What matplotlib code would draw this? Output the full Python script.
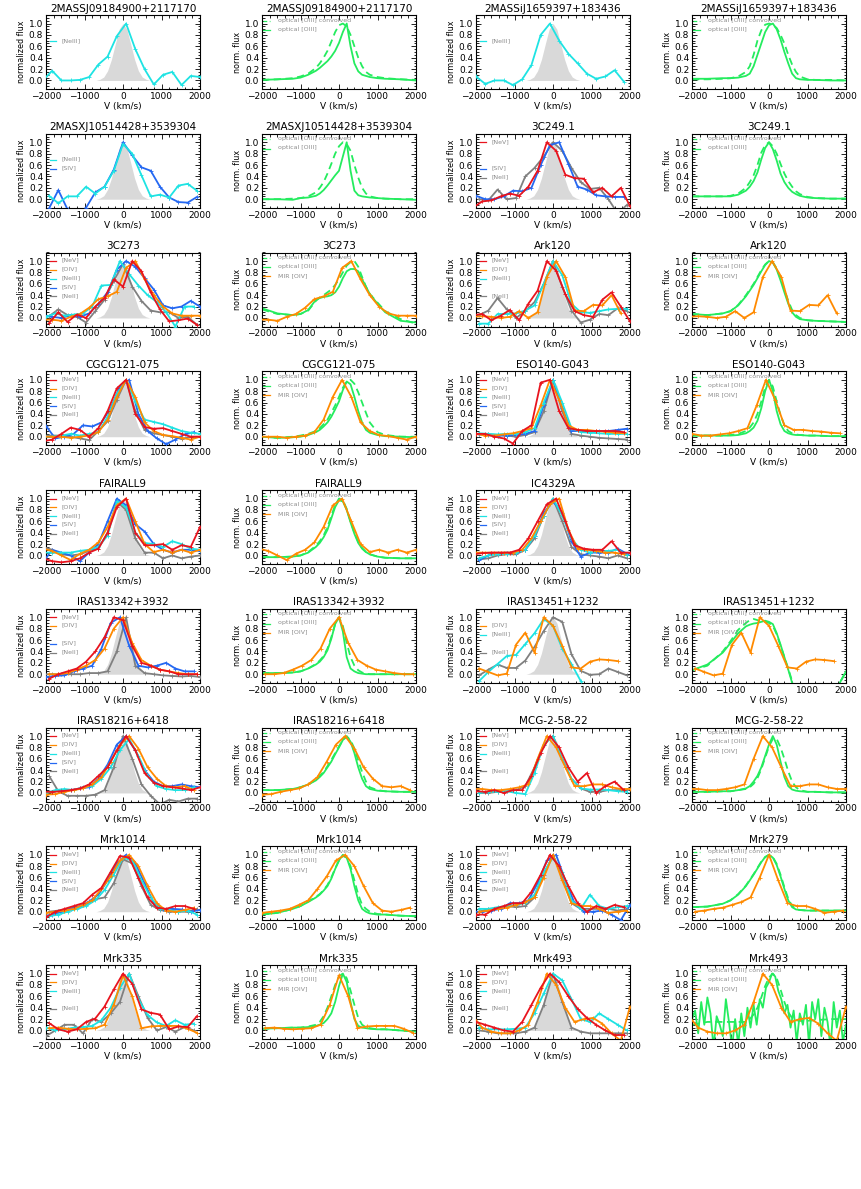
import numpy as np
import matplotlib.pyplot as plt
from matplotlib.ticker import MultipleLocator, FormatStrFormatter

nan = np.nan

# velocity grids (km/s)
GA = [-1920, -1680, -1440, -1200, -960, -720, -480, -240, 0, 240, 480, 720, 960, 1200, 1440, 1680, 1920]
GB = [-2080, -1840, -1600, -1360, -1120, -880, -640, -400, -160, 80, 320, 560, 800, 1040, 1280, 1520, 1760, 2000]
GC = [-2000, -1760, -1520, -1280, -1040, -800, -560, -320, -80, 160, 400, 640, 880, 1120, 1360, 1600, 1840]
GO = [-2000, -1600, -1200, -1000, -800, -600, -500, -400, -300, -200, -100, 0, 100, 200, 300, 400, 500,
      600, 700, 800, 1000, 1200, 1600, 2000]
GN = [-2000, -1920, -1840, -1760, -1680, -1600, -1520, -1440, -1360, -1280, -1200, -1120, -1040, -960,
      -880, -800, -720, -640, -560, -480, -400, -320, -240, -160, -80, 0, 80, 160, 240, 320, 400, 480,
      560, 640, 720, 800, 880, 960, 1040, 1120, 1200, 1280, 1360, 1440, 1520, 1600, 1680, 1760, 1840,
      1920, 2000]

# instrumental profile (grey shading)
inst_v = [-700, -600, -500, -400, -300, -200, -100, 0, 100, 200, 300, 400, 500, 600, 700]
inst_f = [0.0, 0.02, 0.06, 0.17, 0.37, 0.64, 0.9, 1.0, 0.9, 0.64, 0.37, 0.17, 0.06, 0.02, 0.0]

# 2MASSJ09184900+2117170
j0918_ne3 = [0.0, 0.17, 0.0, 0.0, 0.01, 0.06, 0.28, 0.42, 0.78, 1.0, 0.55, 0.2, -0.07, 0.1, 0.15, -0.08, 0.08, 0.06]
j0918_opt = [0.01, 0.02, 0.03, 0.05, 0.1, 0.17, 0.22, 0.28, 0.34, 0.42, 0.52, 0.66, 0.85, 1.0, 0.6, 0.3, 0.16, 0.1, 0.08, 0.06, 0.04, 0.03, 0.02, 0.0]
j0918_conv = [0.01, 0.02, 0.04, 0.07, 0.12, 0.22, 0.3, 0.4, 0.52, 0.68, 0.85, 0.97, 1.0, 0.95, 0.8, 0.6, 0.4, 0.25, 0.15, 0.1, 0.06, 0.04, 0.02, 0.01]

# 2MASSiJ1659397+183436
j1659_ne3 = [0.07, -0.06, 0.0, 0.0, -0.08, 0.02, 0.27, 0.8, 1.0, 0.7, 0.47, 0.3, 0.12, 0.03, 0.07, 0.18, -0.02]
j1659_opt = [0.03, 0.03, 0.04, 0.04, 0.05, 0.08, 0.12, 0.25, 0.45, 0.65, 0.85, 0.97, 1.0, 0.9, 0.72, 0.5, 0.3, 0.12, 0.04, 0.02, 0.01, 0.01, 0.0, 0.0]
j1659_conv = [0.02, 0.02, 0.03, 0.04, 0.07, 0.15, 0.25, 0.45, 0.7, 0.88, 0.98, 1.0, 0.98, 0.92, 0.8, 0.65, 0.45, 0.28, 0.15, 0.07, 0.02, 0.01, 0.01, 0.0]

# 2MASXJ10514428+3539304
j1051_ne3 = [0.06, -0.07, 0.05, 0.05, 0.22, 0.1, 0.22, 0.5, 0.97, 0.8, 0.42, 0.05, 0.08, 0.03, 0.24, 0.27, 0.15]
j1051_s4 = [-0.16, 0.16, -0.18, -0.25, -0.15, 0.12, 0.22, 0.52, 1.0, 0.77, 0.56, 0.5, 0.22, 0.03, -0.05, -0.06, 0.04]
j1051_opt = [0.0, 0.0, -0.01, 0.02, 0.03, 0.06, 0.1, 0.16, 0.24, 0.33, 0.42, 0.5, 0.75, 1.0, 0.5, 0.15, 0.07, 0.05, 0.04, 0.03, 0.02, 0.01, 0.0, -0.01]
j1051_conv = [0.0, 0.0, 0.01, 0.02, 0.05, 0.12, 0.2, 0.3, 0.45, 0.62, 0.8, 0.93, 1.0, 0.97, 0.85, 0.6, 0.38, 0.2, 0.1, 0.05, 0.02, 0.01, 0.0, 0.0]

# 3C249.1
c249_ne5 = [-0.15, -0.04, -0.02, 0.05, 0.1, 0.06, 0.22, 0.5, 1.0, 0.85, 0.43, 0.37, 0.36, 0.12, 0.2, 0.05, 0.2, -0.12]
c249_s4 = [0.06, 0.0, 0.0, 0.05, 0.15, 0.14, 0.2, 0.6, 0.95, 1.0, 0.62, 0.22, 0.17, 0.07, 0.05, 0.04, 0.04]
c249_ne2 = [0.0, -0.02, 0.17, 0.0, 0.02, 0.4, 0.55, 0.75, 1.0, 0.85, 0.55, 0.3, 0.18, 0.2, 0.0, -0.25, -0.1]
c249_opt = [0.05, 0.05, 0.05, 0.05, 0.08, 0.15, 0.22, 0.32, 0.47, 0.7, 0.9, 1.0, 0.88, 0.68, 0.45, 0.3, 0.2, 0.13, 0.09, 0.06, 0.03, 0.02, 0.01, 0.01]
c249_conv = [0.05, 0.05, 0.05, 0.06, 0.1, 0.2, 0.3, 0.42, 0.6, 0.82, 0.95, 1.0, 0.93, 0.8, 0.62, 0.45, 0.32, 0.22, 0.14, 0.09, 0.04, 0.02, 0.01, 0.01]

# 3C273
c273_ne5 = [-0.09, 0.1, -0.07, 0.06, 0.0, 0.2, 0.35, 0.68, 0.55, 1.0, 0.82, 0.45, 0.15, -0.06, -0.04, -0.01, -0.12]
c273_o4 = [-0.03, -0.03, -0.05, 0.02, 0.07, 0.18, 0.33, 0.38, 0.46, 0.88, 1.0, 0.68, 0.4, 0.2, 0.08, 0.04, 0.04, 0.04]
c273_ne3 = [0.02, 0.08, 0.04, 0.06, 0.08, 0.2, 0.57, 0.58, 1.0, 0.77, 0.57, 0.4, 0.28, 0.1, -0.15, 0.2, 0.2]
c273_s4 = [0.05, 0.02, 0.0, 0.05, 0.02, 0.08, 0.25, 0.45, 0.85, 1.0, 0.9, 0.7, 0.5, 0.22, 0.17, 0.2, 0.3, 0.2]
c273_ne2 = [0.03, 0.15, 0.05, 0.02, -0.08, 0.12, 0.32, 0.65, 0.95, 0.55, 0.3, 0.13, 0.1, 0.1, 0.0, 0.02, -0.12]
c273_opt = [0.17, 0.08, 0.05, 0.07, 0.14, 0.32, 0.35, 0.37, 0.38, 0.4, 0.45, 0.55, 0.7, 0.82, 0.86, 0.86, 0.82, 0.68, 0.55, 0.42, 0.25, 0.1, -0.05, -0.08]
c273_conv = [0.15, 0.07, 0.05, 0.07, 0.13, 0.3, 0.36, 0.4, 0.45, 0.5, 0.58, 0.68, 0.8, 0.92, 0.98, 1.0, 0.9, 0.72, 0.55, 0.42, 0.27, 0.12, -0.02, -0.1]

# Ark120
ark_ne5 = [0.05, 0.07, -0.04, 0.04, 0.14, -0.04, 0.25, 0.48, 1.0, 0.83, 0.42, 0.12, 0.05, 0.02, 0.32, 0.45, 0.2, -0.06]
ark_o4 = [0.02, 0.03, 0.02, 0.0, 0.02, 0.12, 0.0, 0.1, 0.72, 1.0, 0.72, 0.13, 0.12, 0.23, 0.22, 0.4, 0.08, nan]
ark_ne3 = [-0.1, -0.1, 0.07, 0.07, 0.08, 0.13, 0.22, 0.6, 1.0, 0.75, 0.25, 0.1, 0.09, 0.12, 0.15, 0.16, 0.16]
ark_ne2 = [0.05, 0.13, 0.35, 0.15, 0.0, 0.12, 0.28, 0.6, 1.0, 0.55, 0.13, -0.08, -0.03, 0.07, 0.05, 0.17, 0.12]
ark_opt = [0.07, 0.05, 0.08, 0.12, 0.22, 0.38, 0.48, 0.58, 0.7, 0.82, 0.93, 1.0, 0.97, 0.85, 0.66, 0.45, 0.25, 0.1, 0.02, -0.02, -0.04, -0.05, -0.06, -0.07]
ark_conv = [0.07, 0.05, 0.08, 0.12, 0.23, 0.4, 0.5, 0.6, 0.72, 0.84, 0.94, 1.0, 0.98, 0.87, 0.7, 0.5, 0.3, 0.14, 0.05, 0.0, -0.04, -0.05, -0.06, -0.07]

# CGCG121-075
cgcg_ne5 = [-0.08, -0.05, 0.05, 0.16, 0.12, 0.0, 0.15, 0.45, 0.85, 1.0, 0.4, 0.17, 0.14, 0.15, 0.1, 0.05, 0.0, 0.0]
cgcg_o4 = [0.0, 0.0, 0.0, -0.02, 0.0, 0.02, 0.08, 0.3, 0.7, 1.0, 0.7, 0.25, 0.1, 0.03, 0.01, -0.02, -0.05, 0.0]
cgcg_ne3 = [0.0, 0.0, 0.02, 0.05, 0.02, 0.05, 0.08, 0.35, 0.75, 1.0, 0.62, 0.3, 0.26, 0.22, 0.16, 0.1, 0.07, 0.05]
cgcg_s4 = [0.19, -0.03, 0.0, 0.05, 0.2, 0.18, 0.25, 0.5, 0.88, 1.0, 0.4, 0.1, -0.03, -0.13, -0.05, 0.04, 0.08]
cgcg_ne2 = [0.02, 0.02, 0.02, 0.0, -0.03, -0.06, 0.1, 0.27, 0.65, 1.0, 0.45, 0.12, 0.06, 0.03, 0.0, -0.04, 0.0, 0.0]
cgcg_opt = [0.0, -0.02, -0.01, 0.0, 0.03, 0.08, 0.12, 0.18, 0.25, 0.35, 0.48, 0.62, 0.82, 0.97, 0.92, 0.7, 0.45, 0.25, 0.12, 0.07, 0.03, 0.01, 0.0, -0.01]
cgcg_conv = [0.0, -0.02, 0.0, 0.02, 0.05, 0.1, 0.15, 0.22, 0.3, 0.42, 0.55, 0.7, 0.86, 0.97, 1.0, 0.93, 0.78, 0.6, 0.42, 0.25, 0.08, 0.03, 0.0, 0.0]

# ESO140-G043
eso_ne5 = [0.05, 0.05, 0.0, -0.03, -0.12, 0.1, 0.2, 0.95, 1.0, 0.45, 0.15, 0.12, 0.1, 0.1, 0.1, 0.1, 0.08]
eso_o4 = [0.05, 0.02, 0.02, 0.04, 0.06, 0.1, 0.15, 0.55, 1.0, 0.65, 0.2, 0.12, 0.12, 0.1, 0.09, 0.07, 0.06]
eso_ne3 = [0.06, 0.05, 0.04, 0.05, 0.05, 0.08, 0.15, 0.6, 1.0, 0.6, 0.15, 0.08, 0.07, 0.06, 0.05, 0.05, 0.05]
eso_s4 = [0.04, 0.03, 0.02, 0.02, 0.03, 0.05, 0.1, 0.55, 1.0, 0.5, 0.1, 0.1, 0.08, 0.1, 0.1, 0.12, 0.14]
eso_ne2 = [0.05, 0.04, 0.03, 0.02, 0.0, 0.03, 0.08, 0.45, 1.0, 0.45, 0.05, 0.02, 0.0, -0.02, -0.03, -0.04, -0.05]
eso_opt = [0.02, 0.02, 0.02, 0.02, 0.03, 0.06, 0.1, 0.16, 0.28, 0.5, 0.8, 1.0, 0.8, 0.45, 0.22, 0.1, 0.06, 0.04, 0.03, 0.03, 0.02, 0.02, 0.01, 0.01]
eso_conv = [0.02, 0.02, 0.02, 0.03, 0.05, 0.1, 0.16, 0.25, 0.4, 0.62, 0.87, 1.0, 0.88, 0.62, 0.38, 0.2, 0.1, 0.06, 0.04, 0.03, 0.02, 0.02, 0.01, 0.01]

# FAIRALL9
f9_ne5 = [-0.05, -0.1, -0.12, -0.1, -0.05, 0.05, 0.12, 0.4, 0.85, 1.0, 0.4, 0.18, 0.18, 0.2, 0.1, 0.18, 0.15, 0.5]
f9_o4 = [0.12, 0.08, 0.0, -0.08, 0.03, 0.1, 0.23, 0.5, 0.88, 1.0, 0.6, 0.2, 0.06, 0.1, 0.05, 0.1, 0.05, 0.1]
f9_ne3 = [0.05, 0.05, 0.05, 0.05, 0.08, 0.1, 0.15, 0.35, 0.95, 0.85, 0.4, 0.22, 0.2, 0.15, 0.25, 0.2, 0.12, 0.1]
f9_s4 = [-0.12, 0.1, 0.05, 0.0, -0.1, 0.05, 0.2, 0.6, 1.0, 0.88, 0.55, 0.42, 0.2, 0.1, 0.05, 0.1, 0.1, 0.08]
f9_ne2 = [0.15, 0.1, 0.02, 0.0, 0.02, 0.08, 0.12, 0.4, 0.95, 0.8, 0.3, 0.05, 0.05, -0.05, 0.0, -0.05, -0.02, 0.0]
f9_opt = [-0.03, -0.03, -0.02, 0.0, 0.05, 0.15, 0.22, 0.32, 0.45, 0.65, 0.85, 0.97, 0.95, 0.8, 0.58, 0.38, 0.22, 0.12, 0.06, 0.02, -0.02, -0.04, -0.05, -0.05]
f9_conv = [-0.03, -0.03, -0.02, 0.0, 0.06, 0.17, 0.25, 0.35, 0.5, 0.7, 0.88, 1.0, 0.97, 0.82, 0.6, 0.4, 0.24, 0.13, 0.06, 0.02, -0.02, -0.04, -0.05, -0.05]

# IC4329A
ic_ne5 = [0.02, 0.04, 0.05, 0.05, 0.05, 0.1, 0.3, 0.6, 0.9, 1.0, 0.6, 0.18, 0.12, 0.1, 0.1, 0.25, 0.05, 0.05]
ic_o4 = [0.05, 0.05, 0.05, 0.05, 0.05, 0.1, 0.3, 0.6, 0.9, 1.0, 0.45, 0.12, 0.1, 0.08, 0.05, 0.05, 0.02]
ic_ne3 = [-0.05, 0.0, 0.02, 0.03, 0.05, 0.1, 0.35, 0.7, 1.0, 0.7, 0.3, 0.1, 0.05, 0.08, 0.08, 0.1, 0.0]
ic_s4 = [-0.08, 0.0, 0.04, 0.05, 0.04, 0.1, 0.35, 0.75, 0.95, 0.75, 0.25, -0.02, 0.05, 0.05, 0.05, 0.12, 0.03]
ic_ne2 = [-0.07, -0.05, 0.0, 0.02, 0.02, 0.1, 0.3, 0.7, 1.0, 0.6, 0.15, 0.02, 0.0, -0.02, -0.05, 0.0, -0.05]

# IRAS13342+3932
i1334_ne5 = [-0.08, 0.0, 0.05, 0.1, 0.22, 0.4, 0.65, 1.0, 0.95, 0.5, 0.2, 0.15, 0.08, 0.05, 0.0, 0.0, 0.0]
i1334_o4 = [0.0, 0.0, 0.02, 0.08, 0.15, 0.25, 0.45, 0.8, 1.0, 0.55, 0.25, 0.15, 0.08, 0.05, 0.02, 0.0, 0.0]
i1334_s4 = [-0.05, -0.03, -0.02, 0.05, 0.1, 0.15, 0.45, 0.9, 1.0, 0.5, 0.15, 0.12, 0.15, 0.2, 0.1, 0.05, 0.05]
i1334_ne2 = [0.0, 0.0, 0.0, 0.0, 0.0, 0.02, 0.02, 0.05, 0.4, 1.0, 0.15, 0.02, 0.0, -0.02, -0.03, -0.04, -0.03, -0.05]
i1334_opt = [0.02, 0.02, 0.03, 0.05, 0.1, 0.17, 0.22, 0.3, 0.42, 0.62, 0.88, 1.0, 0.75, 0.3, 0.1, 0.05, 0.02, 0.01, 0.0, 0.0, 0.0, 0.0, 0.0, 0.0]
i1334_conv = [0.02, 0.02, 0.03, 0.05, 0.1, 0.18, 0.24, 0.32, 0.45, 0.65, 0.88, 1.0, 0.85, 0.55, 0.3, 0.15, 0.07, 0.03, 0.01, 0.0, 0.0, 0.0, 0.0, 0.0]

# IRAS13451+1232
i1345_o4 = [0.1, 0.04, -0.02, 0.01, 0.52, 0.73, 0.38, 1.0, 0.85, 0.5, 0.12, 0.1, 0.22, 0.26, 0.25, 0.23, nan]
i1345_ne3 = [-0.12, 0.04, 0.18, 0.32, 0.34, 0.53, 0.72, 0.97, 0.85, 0.45, 0.18, -0.12, -0.4, nan, nan, nan, nan]
i1345_ne2 = [-0.02, 0.08, 0.17, 0.11, 0.11, 0.24, 0.48, 0.76, 1.0, 0.92, 0.35, 0.06, -0.01, 0.0, 0.1, 0.04, -0.02]
i1345_opt = [0.07, 0.17, 0.38, 0.55, 0.72, 0.84, 0.87, 0.89, 0.9, 0.92, 0.94, 0.92, 0.88, 0.72, 0.52, 0.3, 0.08, -0.15, -0.3, -0.4, -0.5, -0.5, -0.45, 0.05]
i1345_conv = [0.07, 0.15, 0.4, 0.58, 0.78, 0.9, 0.95, 0.97, 0.95, 0.92, 0.92, 0.9, 0.85, 0.7, 0.5, 0.3, 0.1, -0.12, -0.3, -0.4, -0.5, -0.5, -0.45, 0.05]

# IRAS18216+6418
i1821_ne5 = [0.02, 0.02, 0.03, 0.05, 0.08, 0.15, 0.3, 0.45, 0.75, 1.0, 0.75, 0.35, 0.18, 0.12, 0.1, 0.08, 0.05, 0.1]
i1821_o4 = [-0.03, -0.02, 0.02, 0.05, 0.08, 0.15, 0.28, 0.55, 0.85, 1.0, 0.78, 0.45, 0.25, 0.12, 0.1, 0.12, 0.05]
i1821_ne3 = [0.0, 0.05, 0.07, 0.05, 0.1, 0.12, 0.25, 0.45, 0.75, 0.95, 0.65, 0.3, 0.12, 0.07, 0.05, 0.05, 0.1]
i1821_s4 = [0.0, 0.02, 0.05, 0.05, 0.08, 0.1, 0.25, 0.5, 0.85, 1.0, 0.75, 0.4, 0.2, 0.12, 0.12, 0.15, 0.12, 0.1]
i1821_ne2 = [0.3, 0.03, -0.05, -0.05, -0.05, -0.03, 0.05, 0.45, 1.0, 0.6, 0.15, -0.05, -0.2, -0.12, -0.15, -0.1, -0.1]
i1821_opt = [0.05, 0.05, 0.07, 0.1, 0.15, 0.22, 0.28, 0.35, 0.45, 0.55, 0.68, 0.8, 0.93, 1.0, 0.9, 0.7, 0.45, 0.25, 0.12, 0.07, 0.04, 0.03, 0.02, 0.02]
i1821_conv = [0.05, 0.05, 0.07, 0.1, 0.15, 0.23, 0.3, 0.37, 0.47, 0.58, 0.7, 0.82, 0.93, 0.99, 0.93, 0.78, 0.57, 0.37, 0.2, 0.1, 0.05, 0.03, 0.02, 0.02]

# MCG-2-58-22
mcg_ne5 = [0.03, 0.02, 0.05, 0.0, 0.05, 0.05, 0.3, 0.7, 1.0, 0.8, 0.45, 0.2, 0.35, 0.0, 0.12, 0.2, 0.05]
mcg_o4 = [0.07, 0.07, 0.05, 0.05, 0.07, 0.1, 0.15, 0.6, 1.0, 0.8, 0.45, 0.12, 0.12, 0.15, 0.15, 0.1, 0.07, 0.07]
mcg_ne3 = [0.0, 0.02, 0.02, 0.03, 0.0, -0.02, 0.35, 0.85, 1.0, 0.6, 0.25, 0.08, 0.06, 0.06, 0.05, 0.03, 0.02]
mcg_ne2 = [0.0, 0.0, 0.02, 0.03, 0.05, 0.12, 0.45, 0.85, 1.0, 0.6, 0.25, 0.08, 0.02, 0.02, 0.05, 0.05, 0.05]
mcg_opt = [0.02, 0.02, 0.03, 0.03, 0.05, 0.08, 0.12, 0.2, 0.3, 0.45, 0.65, 0.85, 1.0, 0.85, 0.55, 0.28, 0.12, 0.06, 0.04, 0.03, 0.02, 0.02, 0.01, 0.01]
mcg_conv = [0.02, 0.02, 0.03, 0.03, 0.05, 0.07, 0.1, 0.16, 0.26, 0.42, 0.62, 0.82, 0.95, 0.95, 0.8, 0.6, 0.38, 0.2, 0.1, 0.05, 0.02, 0.02, 0.01, 0.01]

# Mrk1014
m1014_ne5 = [-0.1, 0.0, 0.05, 0.1, 0.15, 0.3, 0.42, 0.7, 0.98, 0.95, 0.6, 0.25, 0.07, 0.05, 0.1, 0.1, 0.05]
m1014_o4 = [-0.02, 0.0, 0.02, 0.05, 0.12, 0.2, 0.4, 0.62, 0.9, 1.0, 0.8, 0.45, 0.15, 0.02, 0.0, 0.03, 0.07]
m1014_ne3 = [-0.08, -0.05, 0.0, 0.05, 0.1, 0.2, 0.38, 0.65, 0.95, 0.9, 0.55, 0.25, 0.05, 0.03, 0.0, 0.02, -0.05]
m1014_s4 = [-0.08, -0.05, 0.0, 0.05, 0.1, 0.18, 0.3, 0.55, 0.85, 1.0, 0.85, 0.5, 0.15, 0.05, 0.05, 0.04, 0.0, 0.03]
m1014_ne2 = [0.0, 0.02, 0.05, 0.08, 0.12, 0.22, 0.25, 0.5, 0.92, 0.85, 0.45, 0.12, 0.03, 0.0, 0.0, 0.0, 0.05]
m1014_opt = [-0.05, -0.02, 0.05, 0.1, 0.17, 0.25, 0.3, 0.37, 0.45, 0.58, 0.75, 0.9, 1.0, 0.95, 0.75, 0.45, 0.2, 0.05, 0.0, -0.03, -0.05, -0.05, -0.07, -0.08]
m1014_conv = [-0.05, -0.02, 0.05, 0.1, 0.18, 0.26, 0.31, 0.38, 0.47, 0.6, 0.76, 0.9, 0.98, 0.95, 0.8, 0.55, 0.3, 0.12, 0.05, 0.0, -0.04, -0.05, -0.07, -0.08]

# Mrk279
m279_ne5 = [-0.05, -0.05, 0.05, 0.1, 0.15, 0.15, 0.35, 0.65, 1.0, 0.8, 0.45, 0.15, 0.0, 0.1, 0.05, 0.12, 0.08]
m279_o4 = [0.0, 0.02, 0.05, 0.07, 0.12, 0.17, 0.25, 0.6, 1.0, 0.55, 0.15, 0.1, 0.1, 0.05, -0.02, 0.0, 0.02]
m279_ne3 = [0.05, 0.05, 0.08, 0.1, 0.12, 0.15, 0.3, 0.7, 0.95, 0.7, 0.2, 0.05, 0.3, 0.1, 0.05, 0.08, 0.1]
m279_s4 = [0.0, 0.0, 0.02, 0.05, 0.15, 0.15, 0.2, 0.5, 0.9, 1.0, 0.55, 0.15, 0.0, 0.0, 0.02, -0.05, -0.15, 0.12]
m279_ne2 = [0.0, 0.05, 0.05, 0.1, 0.08, 0.1, 0.25, 0.65, 1.0, 0.6, 0.15, 0.05, 0.05, 0.05, 0.05, 0.02, 0.05]
m279_opt = [0.08, 0.09, 0.14, 0.2, 0.3, 0.45, 0.55, 0.65, 0.76, 0.87, 0.96, 1.0, 0.95, 0.82, 0.62, 0.4, 0.2, 0.08, 0.04, 0.03, 0.02, 0.02, 0.02, 0.02]
m279_conv = [0.08, 0.09, 0.14, 0.2, 0.31, 0.46, 0.56, 0.66, 0.77, 0.88, 0.96, 1.0, 0.96, 0.84, 0.65, 0.43, 0.23, 0.1, 0.05, 0.03, 0.02, 0.02, 0.02, 0.02]

# Mrk335
m335_ne5 = [0.13, 0.02, -0.02, 0.02, 0.15, 0.21, 0.42, 0.72, 1.0, 0.82, 0.37, 0.31, 0.28, 0.02, 0.07, 0.06, 0.25]
m335_o4 = [0.04, 0.05, 0.03, 0.02, 0.03, 0.04, 0.1, 0.45, 0.97, 0.6, 0.04, 0.07, 0.08, 0.08, 0.08, 0.03, -0.04]
m335_ne3 = [0.05, 0.0, 0.02, 0.05, 0.06, 0.08, 0.18, 0.4, 0.75, 1.0, 0.55, 0.27, 0.14, 0.08, 0.18, 0.1, 0.12]
m335_ne2 = [-0.1, 0.0, 0.1, 0.1, -0.05, 0.2, 0.15, 0.3, 0.5, 1.0, 0.6, 0.22, 0.0, 0.06, -0.02, 0.06, 0.0]
m335_opt = [0.03, 0.04, 0.05, 0.05, 0.06, 0.08, 0.1, 0.13, 0.2, 0.3, 0.5, 0.78, 1.0, 0.85, 0.5, 0.2, 0.08, 0.05, 0.04, 0.03, 0.02, 0.02, 0.0, -0.02]
m335_conv = [0.03, 0.04, 0.05, 0.05, 0.07, 0.1, 0.15, 0.25, 0.4, 0.6, 0.8, 0.95, 1.0, 0.92, 0.7, 0.45, 0.22, 0.1, 0.06, 0.04, 0.02, 0.02, 0.0, -0.02]

# Mrk493
m493_ne5 = [0.15, 0.1, 0.05, 0.0, -0.02, 0.15, 0.45, 0.75, 1.0, 0.85, 0.6, 0.38, 0.22, 0.1, 0.0, -0.08, -0.08]
m493_o4 = [0.25, 0.05, -0.02, -0.05, -0.05, 0.0, 0.1, 0.5, 1.0, 0.8, 0.4, 0.15, 0.2, 0.22, 0.12, -0.05, -0.18, 0.42]
m493_ne3 = [0.05, 0.02, 0.02, 0.02, 0.03, 0.05, 0.3, 0.65, 1.0, 0.88, 0.55, 0.2, 0.15, 0.3, 0.2, 0.1, 0.0]
m493_ne2 = [0.0, -0.02, -0.05, -0.05, -0.05, -0.02, 0.05, 0.45, 1.0, 0.5, 0.05, -0.02, -0.05, -0.05, -0.05, -0.05, -0.05]
m493_opt = [0.2, 0.35, -0.05, 0.5, 0.1, 0.58, 0.3, -0.3, 0.25, 0.1, -0.1, 0.55, 0.15, -0.3, 0.2, -0.25, 0.3,
            -0.1, 0.4, 0.05, 0.45, 0.1, 0.55, 0.4, 0.75, 0.85, 1.0, 0.95, 0.7, 0.55, 0.3, 0.45, 0.05, 0.35,
            -0.2, 0.3, 0.1, 0.45, -0.25, 0.5, 0.2, 0.55, -0.1, 0.4, 0.15, -0.3, 0.5, 0.05, 0.35, -0.2, 0.1]
m493_conv = [0.1, 0.15, 0.15, 0.15, 0.15, 0.15, 0.2, 0.28, 0.4, 0.58, 0.78, 0.93, 1.0, 0.92, 0.72, 0.5, 0.32, 0.22, 0.18, 0.17, 0.17, 0.18, 0.2, 0.2]

RED = '#e8141e'
ORANGE = '#ff8a00'
CYAN = '#1ee3e3'
BLUE = '#2468f2'
GREY = '#808080'
GREEN = '#24ec5e'
TXT = '#8c8c8c'

lines = {
    'ne5': ('[NeV]', RED, 0),
    'o4': ('[OIV]', ORANGE, 1),
    'ne3': ('[NeIII]', CYAN, 2),
    's4': ('[SIV]', BLUE, 3),
    'ne2': ('[NeII]', GREY, 4),
}
slot_y = [1.0, 0.845, 0.69, 0.535, 0.38]
draw_order = ['ne2', 's4', 'ne3', 'o4', 'ne5']

# (row, col, title, {line: (grid, values)})
mir_panels = [
    (0, 0, '2MASSJ09184900+2117170', {'ne3': (GB, j0918_ne3)}),
    (0, 2, '2MASSiJ1659397+183436', {'ne3': (GC, j1659_ne3)}),
    (1, 0, '2MASXJ10514428+3539304', {'ne3': (GA, j1051_ne3), 's4': (GA, j1051_s4)}),
    (1, 2, '3C249.1', {'ne5': (GB, c249_ne5), 's4': (GC, c249_s4), 'ne2': (GA, c249_ne2)}),
    (2, 0, '3C273', {'ne5': (GA, c273_ne5), 'o4': (GB, c273_o4), 'ne3': (GC, c273_ne3),
                     's4': (GB, c273_s4), 'ne2': (GA, c273_ne2)}),
    (2, 2, 'Ark120', {'ne5': (GB, ark_ne5), 'o4': (GB, ark_o4), 'ne3': (GA, ark_ne3), 'ne2': (GA, ark_ne2)}),
    (3, 0, 'CGCG121-075', {'ne5': (GB, cgcg_ne5), 'o4': (GB, cgcg_o4), 'ne3': (GB, cgcg_ne3),
                           's4': (GC, cgcg_s4), 'ne2': (GB, cgcg_ne2)}),
    (3, 2, 'ESO140-G043', {'ne5': (GC, eso_ne5), 'o4': (GC, eso_o4), 'ne3': (GA, eso_ne3),
                           's4': (GA, eso_s4), 'ne2': (GA, eso_ne2)}),
    (4, 0, 'FAIRALL9', {'ne5': (GB, f9_ne5), 'o4': (GB, f9_o4), 'ne3': (GB, f9_ne3),
                        's4': (GB, f9_s4), 'ne2': (GB, f9_ne2)}),
    (4, 2, 'IC4329A', {'ne5': (GB, ic_ne5), 'o4': (GC, ic_o4), 'ne3': (GA, ic_ne3),
                       's4': (GA, ic_s4), 'ne2': (GA, ic_ne2)}),
    (5, 0, 'IRAS13342+3932', {'ne5': (GA, i1334_ne5), 'o4': (GA, i1334_o4), 's4': (GC, i1334_s4),
                              'ne2': (GB, i1334_ne2)}),
    (5, 2, 'IRAS13451+1232', {'o4': (GA, i1345_o4), 'ne3': (GA, i1345_ne3), 'ne2': (GA, i1345_ne2)}),
    (6, 0, 'IRAS18216+6418', {'ne5': (GB, i1821_ne5), 'o4': (GC, i1821_o4), 'ne3': (GC, i1821_ne3),
                              's4': (GB, i1821_s4), 'ne2': (GA, i1821_ne2)}),
    (6, 2, 'MCG-2-58-22', {'ne5': (GC, mcg_ne5), 'o4': (GB, mcg_o4), 'ne3': (GA, mcg_ne3), 'ne2': (GA, mcg_ne2)}),
    (7, 0, 'Mrk1014', {'ne5': (GC, m1014_ne5), 'o4': (GC, m1014_o4), 'ne3': (GA, m1014_ne3),
                       's4': (GB, m1014_s4), 'ne2': (GA, m1014_ne2)}),
    (7, 2, 'Mrk279', {'ne5': (GC, m279_ne5), 'o4': (GA, m279_o4), 'ne3': (GA, m279_ne3),
                      's4': (GB, m279_s4), 'ne2': (GA, m279_ne2)}),
    (8, 0, 'Mrk335', {'ne5': (GA, m335_ne5), 'o4': (GA, m335_o4), 'ne3': (GC, m335_ne3), 'ne2': (GC, m335_ne2)}),
    (8, 2, 'Mrk493', {'ne5': (GC, m493_ne5), 'o4': (GB, m493_o4), 'ne3': (GA, m493_ne3), 'ne2': (GA, m493_ne2)}),
]

# (row, col, title, convolved, optical, MIR [OIV] or None)
opt_panels = [
    (0, 1, '2MASSJ09184900+2117170', (GO, j0918_conv), (GO, j0918_opt), None),
    (0, 3, '2MASSiJ1659397+183436', (GO, j1659_conv), (GO, j1659_opt), None),
    (1, 1, '2MASXJ10514428+3539304', (GO, j1051_conv), (GO, j1051_opt), None),
    (1, 3, '3C249.1', (GO, c249_conv), (GO, c249_opt), None),
    (2, 1, '3C273', (GO, c273_conv), (GO, c273_opt), (GB, c273_o4)),
    (2, 3, 'Ark120', (GO, ark_conv), (GO, ark_opt), (GB, ark_o4)),
    (3, 1, 'CGCG121-075', (GO, cgcg_conv), (GO, cgcg_opt), (GB, cgcg_o4)),
    (3, 3, 'ESO140-G043', (GO, eso_conv), (GO, eso_opt), (GC, eso_o4)),
    (4, 1, 'FAIRALL9', (GO, f9_conv), (GO, f9_opt), (GB, f9_o4)),
    (5, 1, 'IRAS13342+3932', (GO, i1334_conv), (GO, i1334_opt), (GA, i1334_o4)),
    (5, 3, 'IRAS13451+1232', (GO, i1345_conv), (GO, i1345_opt), (GA, i1345_o4)),
    (6, 1, 'IRAS18216+6418', (GO, i1821_conv), (GO, i1821_opt), (GC, i1821_o4)),
    (6, 3, 'MCG-2-58-22', (GO, mcg_conv), (GO, mcg_opt), (GB, mcg_o4)),
    (7, 1, 'Mrk1014', (GO, m1014_conv), (GO, m1014_opt), (GC, m1014_o4)),
    (7, 3, 'Mrk279', (GO, m279_conv), (GO, m279_opt), (GA, m279_o4)),
    (8, 1, 'Mrk335', (GO, m335_conv), (GO, m335_opt), (GA, m335_o4)),
    (8, 3, 'Mrk493', (GO, m493_conv), (GN, m493_opt), (GB, m493_o4)),
]

W, H = 861, 1189
col_left = [46, 262, 476, 692]


def make_axes(fig, r, c, title, ylabel):
    top = 15 + r * 118.75
    ax = fig.add_axes([col_left[c] / W, 1 - (top + 74) / H, 154 / W, 74 / H])
    ax.set_xlim(-2000, 2000)
    ax.set_ylim(-0.15, 1.15)
    ax.xaxis.set_major_locator(MultipleLocator(1000))
    ax.xaxis.set_minor_locator(MultipleLocator(200))
    ax.yaxis.set_major_locator(MultipleLocator(0.2))
    ax.yaxis.set_minor_locator(MultipleLocator(0.05))
    ax.yaxis.set_major_formatter(FormatStrFormatter('%.1f'))
    ax.tick_params(which='both', direction='in', top=True, right=True, width=0.6, labelsize=6.5, pad=2)
    ax.tick_params(which='major', length=3.5)
    ax.tick_params(which='minor', length=1.8)
    for s in ax.spines.values():
        s.set_linewidth(0.8)
    ax.set_title(title, fontsize=7.5, pad=2.5)
    ax.set_xlabel('V (km/s)', fontsize=6.5, labelpad=1)
    ax.set_ylabel(ylabel, fontsize=5.8, labelpad=2)
    return ax


fig = plt.figure(figsize=(W / 100, H / 100), dpi=100)

for r, c, title, data in mir_panels:
    ax = make_axes(fig, r, c, title, 'normalized flux')
    ax.fill_between(inst_v, 0, inst_f, color='#d9d9d9', lw=0, zorder=1)
    for key in draw_order:
        if key not in data:
            continue
        label, color, slot = lines[key]
        v, f = data[key]
        ax.plot(v, f, color=color, lw=1.3, marker='+', ms=2.5, mew=0.6, zorder=3)
        y = slot_y[slot]
        ax.plot([-1900, -1730], [y, y], color=color, lw=0.9, zorder=3)
        ax.text(-1600, y + 0.015, label, fontsize=4.5, color=TXT, va='center')

for r, c, title, conv, opt, mir in opt_panels:
    ax = make_axes(fig, r, c, title, 'norm. flux')
    ax.plot(conv[0], conv[1], color=GREEN, lw=1.3, ls=(0, (4, 2.5)), zorder=2)
    ax.plot(opt[0], opt[1], color=GREEN, lw=1.3, zorder=2)
    ax.plot([-1980, -1780], [1.05, 1.05], color=GREEN, lw=0.9, ls=(0, (3, 2)))
    ax.text(-1580, 1.06, 'optical [OIII] convolved', fontsize=4.5, color=TXT, va='center')
    ax.plot([-1980, -1780], [0.89, 0.89], color=GREEN, lw=0.9)
    ax.text(-1580, 0.9, 'optical [OIII]', fontsize=4.5, color=TXT, va='center')
    if mir is not None:
        ax.plot(mir[0], mir[1], color=ORANGE, lw=1.3, marker='+', ms=2.5, mew=0.6, zorder=3)
        ax.plot([-1980, -1780], [0.73, 0.73], color=ORANGE, lw=0.9)
        ax.text(-1580, 0.74, 'MIR [OIV]', fontsize=4.5, color=TXT, va='center')

fig.savefig('out.png', dpi=100, facecolor='white')
